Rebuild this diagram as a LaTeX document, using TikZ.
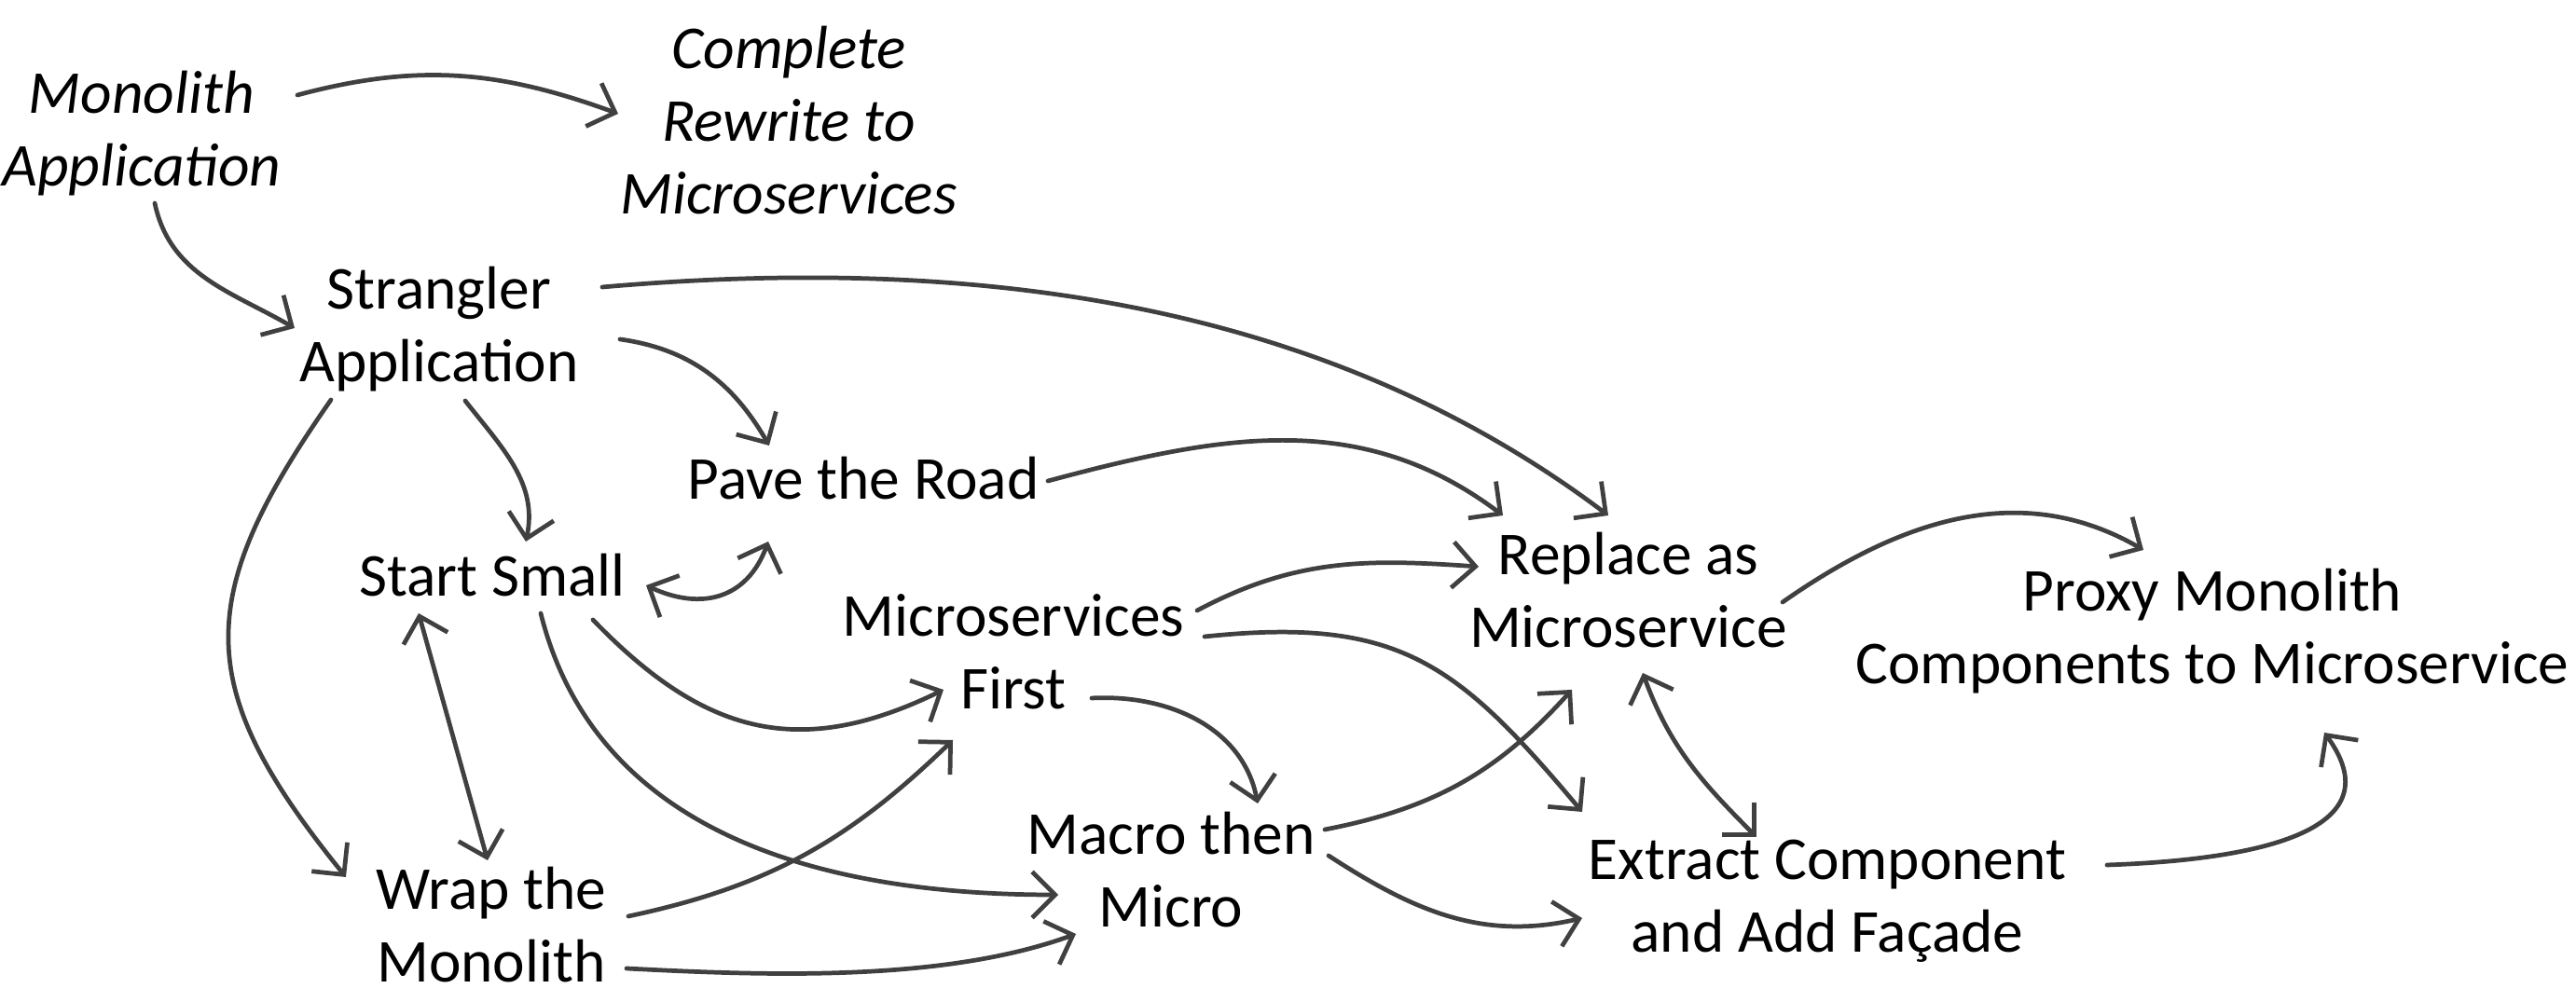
\documentclass[tikz,border=0pt]{standalone}
\usepackage{fontspec}
\setmainfont{Carlito}
\usetikzlibrary{arrows.meta,calc}
\tikzset{txt/.style={align=center,inner sep=0pt,font=\fontsize{18.6}{22.1}\selectfont},
	itxt/.style={txt,font=\fontsize{18.6}{22.1}\selectfont\itshape},
	ar/.style={draw=black!75,line width=1.35pt,line cap=round,-{Straight Barb[length=7pt,width=14pt]}},
	dar/.style={ar,{Straight Barb[length=7pt,width=14pt]}-{Straight Barb[length=7pt,width=14pt]}}}

\begin{document}
\begin{tikzpicture}
	\useasboundingbox (0,0) rectangle (27.63,10.75);
	
	\node[itxt] (mono) at (1.52,9.32) {Monolith\\Application};
	\node[itxt] (rewrite) at (8.46,9.46) {Complete\\Rewrite to\\Microservices};
	\node[txt] (strangler) at (4.71,7.22) {Strangler\\Application};
	\node[txt] (pave) at (9.26,5.62) {Pave the Road};
	\node[txt] (small) at (5.28,4.58) {Start Small};
	\node[txt] (first) at (10.87,3.755) {Microservices\\First};
	\node[txt] (replace) at (17.465,4.42) {Replace as\\Microservice};
	\node[txt] (proxy) at (23.73,3.98) {Proxy Monolith\\Components to Microservice};
	\node[txt] (wrap) at (5.27,0.83) {Wrap the\\Monolith};
	\node[txt] (macro) at (12.56,1.42) {Macro then\\Micro};
	\node[txt] (extract) at (19.60,1.08) {Extract Component\\and Add Façade};
	
	% from the monolith
	\draw[ar] ($(mono.center)+(1.67,.41)$) to[out=15,in=160] ($(rewrite.center)+(-1.83,.07)$);
	\draw[ar] ($(mono.center)+(.14,-.75)$) to[out=-78,in=150] ($(strangler.center)+(-1.55,.01)$);
	
	% from the strangler
	\draw[ar] ($(strangler.center)+(1.75,.45)$) to[out=5,in=143,looseness=.9] ($(replace.center)+(-.215,.8)$);
	\draw[ar] ($(strangler.center)+(1.94,-.11)$) to[out=-8,in=120] ($(pave.center)+(-1.01,.35)$);
	\draw[ar] ($(strangler.center)+(.28,-.77)$) to[out=-52,in=78] ($(small.center)+(.36,.36)$);
	\draw[ar] ($(strangler.center)+(-1.16,-.76)$) to[out=-125,in=129,looseness=1.3] ($(wrap.center)+(-1.56,.51)$);
	
	\draw[dar] ($(small.center)+(1.65,-.11)$) to[out=-25,in=250,looseness=1.2] ($(pave.center)+(-1.02,-.68)$);
	\draw[dar] ($(small.center)+(-.79,-.41)$) -- ($(wrap.center)+(-.04,.69)$);
	\draw[ar] ($(small.center)+(1.08,-.48)$) to[out=-46,in=206,looseness=1.15] ($(first.center)+(-.75,-.405)$);
	\draw[ar] ($(small.center)+(.52,-.41)$) to[out=-76,in=180] ($(macro.center)+(-1.21,-.27)$);
	
	\draw[ar] ($(wrap.center)+(1.47,.09)$) to[out=12,in=224] ($(first.center)+(-.65,-.945)$);
	\draw[ar] ($(wrap.center)+(1.45,-.47)$) to[out=-3,in=200,looseness=.8] ($(macro.center)+(-1.02,-.69)$);
	
	\draw[ar] ($(pave.center)+(1.98,-.03)$) to[out=15,in=143] ($(replace.center)+(-1.345,.8)$);
	
	\draw[ar] ($(first.center)+(1.97,.445)$) to[out=28,in=176] ($(replace.center)+(-1.605,.25)$);
	\draw[ar] ($(first.center)+(2.05,.165)$) to[out=6,in=130,looseness=1.2] ($(extract.center)+(-2.63,.96)$);
	\draw[ar] ($(first.center)+(.84,-.495)$) to[out=3,in=101] ($(macro.center)+(.93,.71)$);
	
	\draw[ar] ($(macro.center)+(1.65,.43)$) to[out=11,in=228] ($(replace.center)+(-.605,-1.07)$);
	\draw[ar] ($(macro.center)+(1.69,.15)$) to[out=-33,in=193] ($(extract.center)+(-2.63,-.18)$);
	
	\draw[dar] ($(replace.center)+(.155,-.89)$) to[out=-70,in=135] ($(extract.center)+(-.76,.69)$);
	\draw[ar] ($(replace.center)+(1.655,-.13)$) to[out=35,in=150] ($(proxy.center)+(-.74,.87)$);
	\draw[ar] ($(extract.center)+(3,.39)$) to[out=2,in=-54,looseness=1.3] ($(proxy.center)+(1.2,-1.09)$);
\end{tikzpicture}
\end{document}
